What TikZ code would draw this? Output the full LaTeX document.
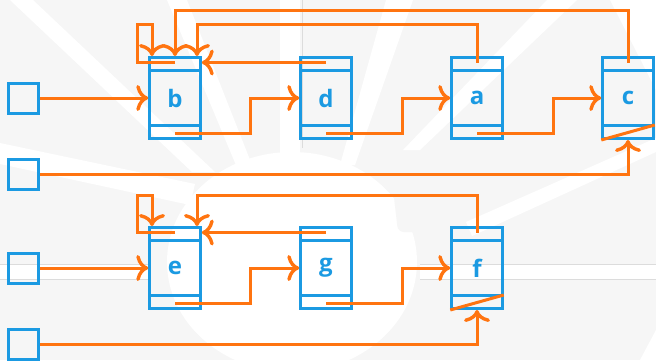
\documentclass[tikz,border=0pt]{standalone}
\usepackage{fontspec}
\setmainfont{Open Sans}
\usetikzlibrary{arrows.meta}
\definecolor{cellblue}{HTML}{1B9AE2}
\definecolor{linkorange}{HTML}{FF7410}
\definecolor{haze}{HTML}{F6F6F6}
\definecolor{hazeline}{HTML}{DCDCDC}

\begin{document}
\begin{tikzpicture}[x=1pt,y=-1pt,
  cell/.style={draw=cellblue, line width=3pt, minimum width=50.5pt,
    minimum height=81pt, inner sep=0pt, text=cellblue,
    font=\bfseries\fontsize{24}{24}\selectfont,
    path picture={\draw[cellblue,line width=3pt]
      ([yshift=-13.3pt]path picture bounding box.north west) --
      ([yshift=-13.3pt]path picture bounding box.north east)
      ([yshift=13.5pt]path picture bounding box.south west) --
      ([yshift=13.5pt]path picture bounding box.south east);}},
  head/.style={draw=cellblue, line width=3pt, minimum size=30pt, inner sep=0pt},
  link/.style={draw=linkorange, line width=3pt,
    -{Computer Modern Rightarrow[length=12pt,width=26pt,line width=3.4pt]}},
  nullmark/.style={draw=linkorange, line width=3pt},
  gap/.style={fill=white},
]
\useasboundingbox (0,0) rectangle (656,360);

% faint cog watermark behind the lists
\fill[haze] (0,0) rectangle (656,360);
\fill[gap] (292,262) ellipse [x radius=125, y radius=110];
\fill[haze, rounded corners=6pt] (392,180) -- (470,180) -- (470,232) -- (398,232) -- cycle;
\fill[gap] (10,0) -- (33,0) -- (215,172) -- (192,172) -- cycle;
\fill[gap] (167,0) -- (187,0) -- (254,170) -- (238,170) -- cycle;
\fill[gap] (280,0) -- (300,0) -- (300,165) -- (280,165) -- cycle;
\fill[gap] (386,0) -- (413,0) -- (355,165) -- (340,165) -- cycle;
\fill[gap] (547,0) -- (577,0) -- (420,150) -- (403,150) -- cycle;
\fill[gap] (610,0) -- (656,0) -- (656,90) -- cycle;
\fill[gap] (0,143) -- (195,184) -- (190,205) -- (0,164) -- cycle;
\fill[gap] (656,138) -- (656,152) -- (472,236) -- (466,222) -- cycle;
\fill[gap] (420,264) rectangle (656,279);
\fill[gap] (0,264) rectangle (150,279);
\fill[gap] (656,330) -- (656,360) -- (640,360) -- cycle;
\draw[hazeline, line width=0.6pt] (302,0) -- (302,148);
\draw[hazeline, line width=0.6pt] (420,264) -- (656,264) (420,279) -- (656,279);
\draw[hazeline, line width=0.6pt] (0,264) -- (150,264) (0,279) -- (150,279);

% list cells
\node[cell] (b) at (175,98) {b};
\node[cell] (d) at (326,98) {d};
\node[cell] (a) at (477,98) {a};
\node[cell] (c) at (628,98) {c};
\node[cell] (e) at (175,268) {e};
\node[cell] (g) at (326,268) {g};
\node[cell] (f) at (477,268) {f};

% head pointers
\node[head] (h1) at (23.7,98) {};
\node[head] (h2) at (23.7,174) {};
\node[head] (h3) at (23.7,268) {};
\node[head] (h4) at (23.7,344) {};

\draw[link] (h1.east) -- (b.west);
\draw[link] (h2.east) -- (h2.east -| c.south) -- (c.south);
\draw[link] (h3.east) -- (e.west);
\draw[link] (h4.east) -- (h4.east -| f.south) -- (f.south);

% next pointers
\draw[link] ([yshift=6.5pt]b.south) -| ([xshift=-49pt]d.west) -- (d.west);
\draw[link] ([yshift=6.5pt]d.south) -| ([xshift=-48pt]a.west) -- (a.west);
\draw[link] ([yshift=6.5pt]a.south) -| ([xshift=-48pt]c.west) -- (c.west);
\draw[link] ([yshift=6.5pt]e.south) -| ([xshift=-49pt]g.west) -- (g.west);
\draw[link] ([yshift=6.5pt]g.south) -| ([xshift=-48pt]f.west) -- (f.west);

% null markers
\draw[nullmark] (c.south west) -- ([yshift=15pt]c.south east);
\draw[nullmark] (f.south west) -- ([yshift=15pt]f.south east);

% parent pointers, upper list
\draw[link] ([yshift=-6.5pt]b.north) -- ([xshift=-38pt,yshift=-6.5pt]b.north)
  |- ([xshift=-23pt,yshift=32pt]b.north) -- ([xshift=-23pt]b.north);
\draw[link] ([yshift=-6.5pt]c.north) -- ([yshift=46pt]c.north) -| (b.north);
\draw[link] ([yshift=-6.5pt]a.north) -- ([yshift=32pt]a.north) -| ([xshift=22pt]b.north);
\draw[link] ([yshift=-6.5pt]d.north) -- ([yshift=-6.5pt]b.north east);

% parent pointers, lower list
\draw[link] ([yshift=-6.5pt]e.north) -- ([xshift=-38pt,yshift=-6.5pt]e.north)
  |- ([xshift=-23pt,yshift=31pt]e.north) -- ([xshift=-23pt]e.north);
\draw[link] ([yshift=-6.5pt]f.north) -- ([yshift=31pt]f.north) -| ([xshift=22pt]e.north);
\draw[link] ([yshift=-6.5pt]g.north) -- ([yshift=-6.5pt]e.north east);
\end{tikzpicture}
\end{document}
